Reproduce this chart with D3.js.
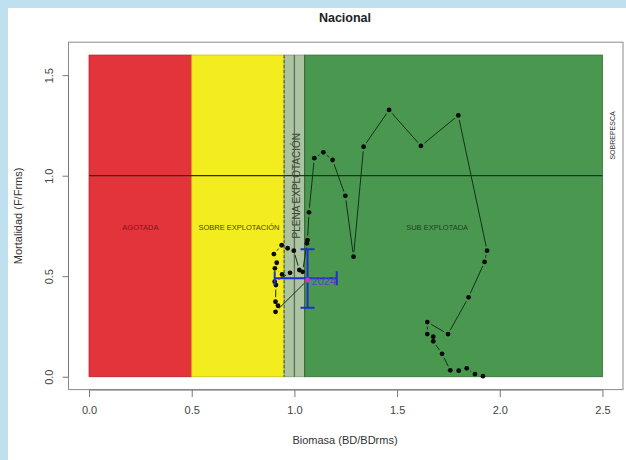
<!DOCTYPE html>
<html>
<head>
<meta charset="utf-8">
<script src="https://cdn.jsdelivr.net/npm/d3@7"></script>
<style>
  html, body { margin: 0; padding: 0; background: #fff; }
  svg { display: block; }
  text { font-family: "Liberation Sans", Arial, sans-serif; }
</style>
</head>
<body>
<div id="chart"></div>
<script>
// ---- data ----
const title = "Nacional";
const xTitle = "Biomasa (BD/BDrms)";
const yTitle = "Mortalidad (F/Frms)";
const xTicks = [0.0, 0.5, 1.0, 1.5, 2.0, 2.5];
const yTicks = [0.0, 0.5, 1.0, 1.5];

// zones: [name, from, to]
const zoneNames = ["AGOTADA", "SOBRE EXPLOTACIÓN", "PLENA EXPLOTACIÓN", "SUB EXPLOTADA"];
const zoneFrom  = [0.0, 0.5, 0.95, 1.05];
const zoneTo    = [0.5, 0.95, 1.05, 2.5];
const zoneTop   = 1.6;
const overfishingLabel = "SOBREPESCA";

// trajectory (chronological), biomass ratio and mortality ratio
const bd = [1.918, 1.879, 1.839, 1.800, 1.759, 1.719, 1.676, 1.676, 1.647, 1.647,
            1.748, 1.848, 1.926, 1.938, 1.798, 1.616, 1.461, 1.337, 1.288, 1.248,
            1.186, 1.141, 1.097, 1.071, 1.064, 1.061, 1.040, 1.024, 0.997, 0.967,
            0.938, 0.900, 0.914, 0.905, 0.940, 0.979, 0.904, 0.910, 0.908, 0.920,
            0.908, 1.064];
const fm = [0.003, 0.013, 0.042, 0.030, 0.032, 0.114, 0.176, 0.199, 0.212, 0.272,
            0.212, 0.395, 0.571, 0.627, 1.300, 1.148, 1.327, 1.144, 0.597, 0.900,
            1.078, 1.116, 1.087, 0.818, 0.680, 0.664, 0.522, 0.531, 0.627, 0.639,
            0.654, 0.610, 0.567, 0.539, 0.509, 0.517, 0.473, 0.456, 0.373, 0.353,
            0.323, 0.481];

// last year with confidence intervals
const lastYear = "2024";
const lastBd = 1.064, lastF = 0.481;
const bdCI = [0.904, 1.206];
const fCI  = [0.343, 0.634];

// ---- drawing ----
const W = 626, H = 460;
const svg = d3.select("#chart").append("svg").attr("width", W).attr("height", H);

svg.append("rect").attr("width", W).attr("height", H).attr("fill", "#fff");
svg.append("rect").attr("x", 0).attr("y", 0).attr("width", W).attr("height", 8).attr("fill", "#bfe0ee");
svg.append("rect").attr("x", 0).attr("y", 0).attr("width", 8).attr("height", H).attr("fill", "#bfe0ee");

const x = d3.scaleLinear().domain([-0.1, 2.6]).range([68.5, 623.0]);
const y = d3.scaleLinear().domain([-0.064, 1.664]).range([389.6, 42.2]);

const zoneFill = ["#e3333b", "#f3ec1f", "#adc4a3", "#4a9850"];
const zoneEdge = ["#b02228", "#c9c010", "#7e9676", "#2f6e35"];

zoneNames.forEach((n, i) => {
  svg.append("rect")
    .attr("x", x(zoneFrom[i])).attr("y", y(zoneTop))
    .attr("width", x(zoneTo[i]) - x(zoneFrom[i]))
    .attr("height", y(0) - y(zoneTop))
    .attr("fill", zoneFill[i])
    .attr("stroke", zoneEdge[i]).attr("stroke-width", 0.8);
});
// line at BD = 1
svg.append("line")
  .attr("x1", x(1)).attr("x2", x(1)).attr("y1", y(zoneTop)).attr("y2", y(0))
  .attr("stroke", "#5f6b5a").attr("stroke-width", 1.3);
// dashed at 0.95
svg.append("line")
  .attr("x1", x(0.95)).attr("x2", x(0.95)).attr("y1", y(zoneTop)).attr("y2", y(0))
  .attr("stroke", "#4a5a20").attr("stroke-width", 1).attr("stroke-dasharray", "3,2");
// edge at 1.05
svg.append("line")
  .attr("x1", x(1.05)).attr("x2", x(1.05)).attr("y1", y(zoneTop)).attr("y2", y(0))
  .attr("stroke", "#3f6a3f").attr("stroke-width", 1);

// F = 1 reference line
svg.append("line")
  .attr("x1", x(0)).attr("x2", x(2.5)).attr("y1", y(1)).attr("y2", y(1))
  .attr("stroke", "#1d3320").attr("stroke-width", 1.2);

// zone labels
const lblFont = 7.5;
svg.append("text").attr("x", x(0.25)).attr("y", y(0.745)).attr("dy", "0.35em")
  .attr("text-anchor", "middle").attr("font-size", lblFont).attr("fill", "#7a1a1e")
  .text(zoneNames[0]);
svg.append("text").attr("x", x(0.73)).attr("y", y(0.745)).attr("dy", "0.35em")
  .attr("text-anchor", "middle").attr("font-size", lblFont).attr("fill", "#4a4a12")
  .text(zoneNames[1]);
svg.append("text").attr("x", x(1.695)).attr("y", y(0.745)).attr("dy", "0.35em")
  .attr("text-anchor", "middle").attr("font-size", lblFont).attr("fill", "#1f3f22")
  .text(zoneNames[3]);
svg.append("text")
  .attr("transform", `translate(${x(1.01)},${y(0.95)}) rotate(-90)`)
  .attr("dy", "0.35em").attr("text-anchor", "middle").attr("font-size", 10)
  .attr("fill", "#3a4a38").text(zoneNames[2]);
svg.append("text")
  .attr("transform", `translate(${x(2.55)},${y(1.2)}) rotate(-90)`)
  .attr("dy", "0.35em").attr("text-anchor", "middle").attr("font-size", 7)
  .attr("fill", "#333").text(overfishingLabel);

// trajectory lines with gaps (R type="b")
const gap = 4.5;
const pts = bd.map((b, i) => [x(b), y(fm[i])]);
for (let i = 0; i < pts.length - 1; i++) {
  const [x1, y1] = pts[i], [x2, y2] = pts[i + 1];
  const d = Math.hypot(x2 - x1, y2 - y1);
  if (d <= 2 * gap) continue;
  const ux = (x2 - x1) / d, uy = (y2 - y1) / d;
  svg.append("line")
    .attr("x1", x1 + ux * gap).attr("y1", y1 + uy * gap)
    .attr("x2", x2 - ux * gap).attr("y2", y2 - uy * gap)
    .attr("stroke", "#14301a").attr("stroke-width", 1);
}
// points
svg.selectAll("circle.pt").data(bd.slice(0, -1)).enter().append("circle")
  .attr("class", "pt")
  .attr("cx", d => x(d)).attr("cy", (d, i) => y(fm[i]))
  .attr("r", 2.4).attr("fill", "#0a0a0a");

// CI error bars for last year
const blue = "#1f2fd0";
const cap = 7;
svg.append("line").attr("x1", x(lastBd)).attr("x2", x(lastBd))
  .attr("y1", y(fCI[0])).attr("y2", y(fCI[1])).attr("stroke", blue).attr("stroke-width", 2);
[fCI[0], fCI[1]].forEach(v => svg.append("line")
  .attr("x1", x(lastBd) - cap).attr("x2", x(lastBd) + cap)
  .attr("y1", y(v)).attr("y2", y(v)).attr("stroke", blue).attr("stroke-width", 2));
svg.append("line").attr("x1", x(bdCI[0])).attr("x2", x(bdCI[1]))
  .attr("y1", y(0.49)).attr("y2", y(0.49)).attr("stroke", blue).attr("stroke-width", 2);
[bdCI[0], bdCI[1]].forEach(v => svg.append("line")
  .attr("x1", x(v)).attr("x2", x(v))
  .attr("y1", y(0.49) - cap).attr("y2", y(0.49) + cap).attr("stroke", blue).attr("stroke-width", 2));
svg.append("circle").attr("cx", x(lastBd)).attr("cy", y(lastF)).attr("r", 2.6).attr("fill", "#c23bc8");
svg.append("text").attr("x", x(lastBd) + 4).attr("y", y(lastF) + 5)
  .attr("font-size", 11).attr("fill", "#5b3fd6").text(lastYear);

// box
svg.append("rect").attr("x", 68.5).attr("y", 42.2).attr("width", 623.0 - 68.5).attr("height", 389.6 - 42.2)
  .attr("fill", "none").attr("stroke", "#8a8a8a").attr("stroke-width", 1);

// axes
const xAxis = d3.axisBottom(x).tickValues(xTicks).tickFormat(d3.format(".1f")).tickSize(7).tickPadding(9);
const gx = svg.append("g").attr("transform", "translate(0,390)").call(xAxis);
gx.select(".domain").attr("d", `M${x(0)},0H${x(2.5)}`).attr("stroke", "#777");
gx.selectAll(".tick line").attr("stroke", "#777");
gx.selectAll("text").attr("font-size", 11).attr("fill", "#444").attr("font-family", "Liberation Sans, Arial, sans-serif");

const yAxis = d3.axisLeft(y).tickValues(yTicks).tickFormat(d3.format(".1f")).tickSize(6).tickPadding(0);
const gy = svg.append("g").attr("transform", "translate(68.5,0)").call(yAxis);
gy.select(".domain").attr("d", `M0,${y(0)}V${y(1.5)}`).attr("stroke", "#777");
gy.selectAll(".tick line").attr("stroke", "#777");
gy.selectAll("text").attr("font-size", 11).attr("fill", "#444")
  .attr("font-family", "Liberation Sans, Arial, sans-serif")
  .attr("text-anchor", "middle").attr("x", null).attr("dy", null)
  .attr("transform", "translate(-19,0) rotate(-90)").attr("y", 0).attr("dy", "0.35em");

// titles
svg.append("text").attr("x", 345).attr("y", 22).attr("text-anchor", "middle")
  .attr("font-size", 12.5).attr("font-weight", "bold").attr("fill", "#222").text(title);
svg.append("text").attr("x", 345).attr("y", 444).attr("text-anchor", "middle")
  .attr("font-size", 11).attr("fill", "#333").text(xTitle);
svg.append("text").attr("transform", `translate(18,${(y(0) + y(1.6)) / 2}) rotate(-90)`)
  .attr("dy", "0.35em").attr("text-anchor", "middle")
  .attr("font-size", 11).attr("fill", "#333").text(yTitle);
</script>
</body>
</html>
